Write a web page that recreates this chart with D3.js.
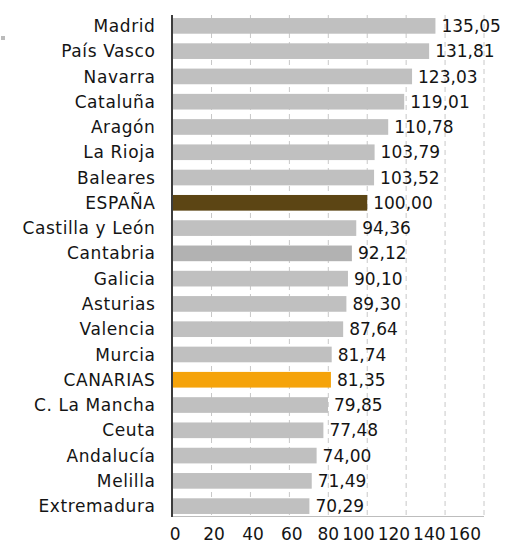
<!DOCTYPE html>
<html lang="es">
<head>
<meta charset="UTF-8">
<title>Índice por comunidades</title>
<script src="https://d3js.org/d3.v7.min.js"></script>
<style>
  body { margin: 0; background: #fff; }
  svg text { font-family: "DejaVu Sans", sans-serif; font-size: 17px; fill: #141414; }
  .cat text { letter-spacing: 0.6px; }
</style>
</head>
<body>
<svg id="chart" width="509" height="545"></svg>
<script>
const regions = ["Madrid", "País Vasco", "Navarra", "Cataluña", "Aragón", "La Rioja", "Baleares",
  "ESPAÑA", "Castilla y León", "Cantabria", "Galicia", "Asturias", "Valencia", "Murcia",
  "CANARIAS", "C. La Mancha", "Ceuta", "Andalucía", "Melilla", "Extremadura"];
const values = [135.05, 131.81, 123.03, 119.01, 110.78, 103.79, 103.52, 100.00, 94.36, 92.12,
  90.10, 89.30, 87.64, 81.74, 81.35, 79.85, 77.48, 74.00, 71.49, 70.29];
const ticks = [0, 20, 40, 60, 80, 100, 120, 140, 160];

const rows = regions.map((r, i) => ({ region: r, value: values[i] }));

const width = 509, height = 545;
const margin = { top: 15, right: 24, bottom: 29, left: 172.6 };
const plotBottom = height - margin.bottom;

const svg = d3.select("#chart");

const x = d3.scaleLinear().domain([0, 160]).range([margin.left, 484]);
const y = d3.scaleBand().domain(regions).range([margin.top, plotBottom + 1])
  .paddingInner(0.38).paddingOuter(0.12);

function barColor(d) {
  if (d.region === "ESPAÑA") return "#5c4514";
  if (d.region === "CANARIAS") return "#f5a30a";
  if (d.region === "Cantabria") return "#b2b2b2";
  return "#c0c0c0";
}

// little marker top-left
svg.append("rect").attr("x", 1).attr("y", 36).attr("width", 4).attr("height", 4).attr("fill", "#bbb");

// dashed grid
svg.append("g")
  .selectAll("line")
  .data(ticks.slice(1))
  .join("line")
  .attr("x1", d => x(d)).attr("x2", d => x(d))
  .attr("y1", margin.top).attr("y2", plotBottom)
  .attr("stroke", "#c8c8c8")
  .attr("stroke-dasharray", "5,4");

// bottom baseline
svg.append("line")
  .attr("x1", x(0)).attr("x2", x(160))
  .attr("y1", plotBottom + 0.5).attr("y2", plotBottom + 0.5)
  .attr("stroke", "#bdbdbd");

svg.append("g")
  .selectAll("rect")
  .data(rows)
  .join("rect")
  .attr("x", x(0))
  .attr("y", d => y(d.region))
  .attr("width", d => x(d.value) - x(0))
  .attr("height", y.bandwidth())
  .attr("fill", barColor);

svg.append("g")
  .selectAll("text")
  .data(rows)
  .join("text")
  .attr("x", d => x(d.value) + 6)
  .attr("y", d => y(d.region) + y.bandwidth() / 2)
  .attr("dy", "0.36em")
  .text(d => d.value.toFixed(2).replace(".", ","));

// category labels
svg.append("g")
  .attr("class", "cat")
  .selectAll("text")
  .data(regions)
  .join("text")
  .attr("x", 155.5)
  .attr("y", d => y(d) + y.bandwidth() / 2)
  .attr("dy", "0.36em")
  .attr("text-anchor", "end")
  .text(d => d);

// left axis line
svg.append("line")
  .attr("x1", x(0) - 0.6).attr("x2", x(0) - 0.6)
  .attr("y1", margin.top).attr("y2", plotBottom + 1)
  .attr("stroke", "#3c3c3c").attr("stroke-width", 2);

// value axis labels, packed right-to-left so they stay inside the plot width
const tickText = svg.append("g")
  .selectAll("text")
  .data(ticks)
  .join("text")
  .attr("y", 540)
  .attr("text-anchor", "middle")
  .text(d => d);

const pos = [];
tickText.each(function (d, i) {
  pos[i] = { c: x(d) + 2.5, w: this.getComputedTextLength() };
});
let limit = x(160) - 3;
for (let i = pos.length - 1; i >= 0; i--) {
  const right = Math.min(pos[i].c + pos[i].w / 2, limit);
  pos[i].c = right - pos[i].w / 2;
  limit = right - pos[i].w - 3;
}
tickText.attr("x", (d, i) => pos[i].c);
</script>
</body>
</html>
